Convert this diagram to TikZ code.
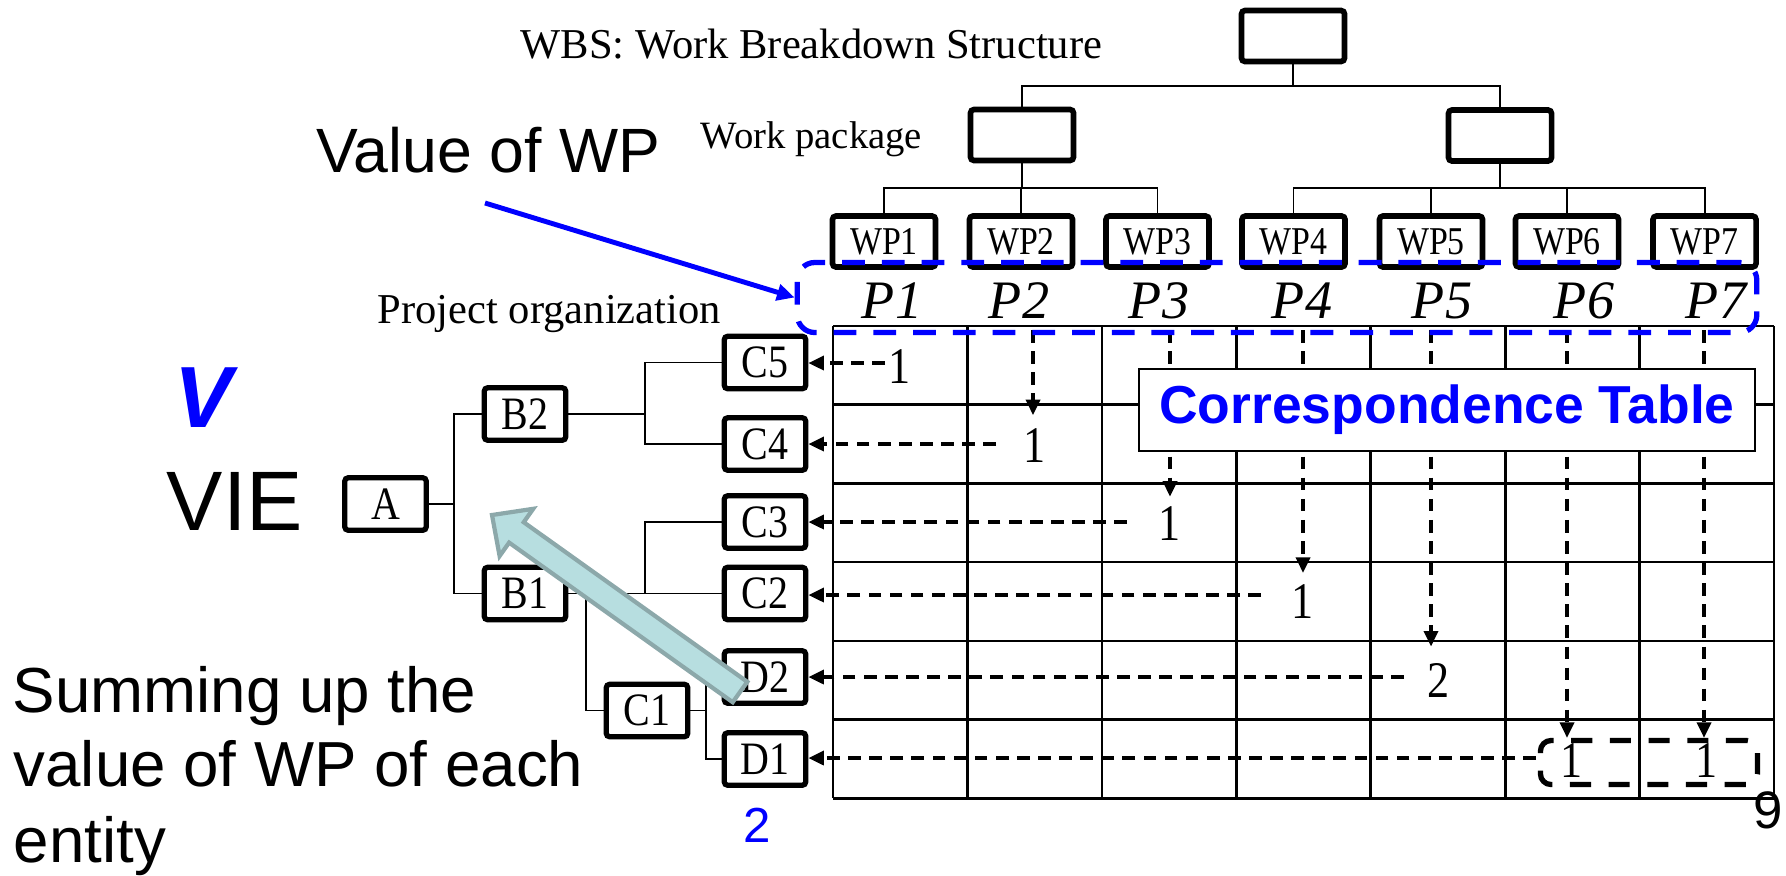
\documentclass[tikz,border=0pt]{standalone}
\usepackage{fontspec}
\setmainfont{Liberation Serif}
\setsansfont{Liberation Sans}
\newfontfamily\narrowserif{Liberation Serif}[FakeStretch=0.86]
\usetikzlibrary{arrows.meta}
\definecolor{pureblue}{RGB}{0,0,255}
\definecolor{tealfill}{RGB}{183,222,224}
\definecolor{tealedge}{RGB}{140,168,170}
\newcommand{\fsz}[1]{\fontsize{#1}{#1}\selectfont}

\begin{document}
\begin{tikzpicture}[x=0.01cm, y=-0.01cm,
  wbsbox/.style={draw, line width=1.6pt, rounded corners=1pt, minimum width=1.03cm, minimum height=0.51cm, inner sep=0pt},
  orgbox/.style={draw, line width=1.5pt, rounded corners=1pt, minimum width=0.815cm, minimum height=0.525cm, inner sep=0pt, font=\narrowserif\fsz{13.2}},
  tree/.style={line width=0.55pt},
  gridline/.style={line width=0.75pt},
  dasharrow/.style={line width=0.95pt, dash pattern=on 3.6pt off 2.4pt, -{Triangle[length=4.4pt,width=4pt]}},
  cellnum/.style={inner sep=0pt, anchor=base, font=\narrowserif\fsz{14.6}},
  plabel/.style={inner sep=0pt, anchor=base, font=\fsz{15.4}\itshape},
  caption/.style={inner sep=0pt, anchor=base west},
]
\useasboundingbox (0,0) rectangle (1786,875);

% ---------- correspondence table grid ----------
\foreach \i in {0,...,7}
  \draw[gridline] ({833+134.43*\i},326) -- ({833+134.43*\i},798);
\foreach \j in {0,...,6}
  \draw[gridline] (833,{326+78.7*\j}) -- (1774,{326+78.7*\j});

% ---------- WBS tree ----------
\node[wbsbox] (root) at (1293,36) {};
\node[wbsbox] (midL) at (1022,135) {};
\node[wbsbox] (midR) at (1500,135.5) {};
\foreach \i/\x in {1/884,2/1021,3/1157.5,4/1293.5,5/1431,6/1567,7/1704.5}
  \node[wbsbox, font=\narrowserif\fsz{11.2}] (wp\i) at (\x,241.5) {WP\i};

\coordinate (jRoot) at (1293,86);
\coordinate (jL) at (1022,188);
\coordinate (jR) at (1500,188);
\draw[tree] (root.south) -- (jRoot);
\draw[tree] (midL.north) |- (jRoot) -| (midR.north);
\draw[tree] (midL.south) -- (jL);
\draw[tree] (wp1.north) |- (jL) -| (wp3.north);
\draw[tree] (wp2.north) |- (jL);
\draw[tree] (midR.south) -- (jR);
\draw[tree] (wp4.north) |- (jR) -| (wp7.north);
\draw[tree] (wp5.north) |- (jR);
\draw[tree] (wp6.north) |- (jR);

% ---------- project organization tree ----------
\node[orgbox] (A)  at (385.5,504) {A};
\node[orgbox] (B2) at (525,414) {B2};
\node[orgbox] (B1) at (525,593.5) {B1};
\node[orgbox] (C5) at (765,362.5) {C5};
\node[orgbox] (C4) at (765,444) {C4};
\node[orgbox] (C3) at (765,522) {C3};
\node[orgbox] (C2) at (765,593.5) {C2};
\node[orgbox] (D2) at (765,677) {D2};
\node[orgbox] (D1) at (765,759) {D1};
\node[orgbox] (C1) at (647,710.5) {C1};

\coordinate (jA) at (454,504);
\coordinate (jB2) at (645,414);
\coordinate (jB1) at (645,593.5);
\coordinate (jB1c) at (586,593.5);
\coordinate (jC1) at (705.7,710.5);
\draw[tree] (A.east) -- (jA);
\draw[tree] (B2.west) -| (jA) |- (B1.west);
\draw[tree] (B2.east) -- (jB2);
\draw[tree] (C5.west) -| (jB2) |- (C4.west);
\draw[tree] (B1.east) -- (jB1);
\draw[tree] (C3.west) -| (jB1) |- (C2.west);
\draw[tree] (jB1c) |- (C1.west);
\draw[tree] (C1.east) -- (jC1);
\draw[tree] (D2.west) -| (jC1) |- (D1.west);

% ---------- column headings ----------
\foreach \i/\x in {1/892,2/1019,3/1159,4/1302,5/1442,6/1584,7/1716}
  \node[plabel] (P\i) at (\x,318) {P\i};

% ---------- table entries ----------
\node[cellnum] (nC5) at (900,383) {1};
\node[cellnum] (nC4) at (1035,462) {1};
\node[cellnum] (nC3) at (1170,540) {1};
\node[cellnum] (nC2) at (1303,618) {1};
\node[cellnum] (nD2) at (1439,697) {2};
\node[cellnum] (nD1a) at (1572,777) {1};
\node[cellnum] (nD1b) at (1707,777) {1};
\node[draw, line width=1.5pt, dash pattern=on 6pt off 5pt, rounded corners=3pt,
      minimum width=2.17cm, minimum height=0.44cm, inner sep=0pt] (dbox) at (1649,762.5) {};

% vertical arrows: work package column -> row
\coordinate (vP2) at (1033,330);
\coordinate (vP3) at (1170,330);
\coordinate (vP4) at (1303,330);
\coordinate (vP5) at (1431,330);
\coordinate (vP6) at (1567,330);
\coordinate (vP7) at (1704,330);
\draw[dasharrow, shorten >=3.5pt] (vP2) -- (vP2 |- nC4.north);
\draw[dasharrow, shorten >=2.5pt] (vP3) -- (vP3 |- nC3.north);
\draw[dasharrow, shorten >=3pt] (vP4) -- (vP4 |- nC2.north);
\draw[dasharrow, shorten >=4.5pt] (vP5) -- (vP5 |- nD2.north);
\draw[dasharrow] (vP6) -- (vP6 |- dbox.north);
\draw[dasharrow] (vP7) -- (vP7 |- dbox.north);

% horizontal arrows: row value -> organization entity
\coordinate (hC5) at (885,363);
\coordinate (hC4) at (996,444);
\coordinate (hC3) at (1127,522);
\coordinate (hC2) at (1261,595);
\coordinate (hD2) at (1404,677);
\coordinate (hD1) at (1536,758);
\draw[dasharrow] (hC5) -- (hC5 -| C5.east);
\draw[dasharrow] (hC4) -- (hC4 -| C4.east);
\draw[dasharrow] (hC3) -- (hC3 -| C3.east);
\draw[dasharrow] (hC2) -- (hC2 -| C2.east);
\draw[dasharrow] (hD2) -- (hD2 -| D2.east);
\draw[dasharrow] (hD1) -- (hD1 -| D1.east);

% ---------- table title ----------
\node[draw, line width=0.6pt, fill=white, minimum width=6.16cm, minimum height=0.82cm, inner sep=0pt,
      font=\sffamily\bfseries\fsz{15.2}, text=pureblue] (ctab) at (1447,410) {Correspondence Table};

% ---------- value of WP highlight ----------
\node[draw=pureblue, line width=1.5pt, dash pattern=on 6.5pt off 4.8pt, rounded corners=5pt,
      minimum width=9.59cm, minimum height=0.70cm, inner sep=0pt] (pbox) at (1277,297.5) {};
\coordinate (vwpTail) at (485,203);
\draw[pureblue, line width=1.4pt, -{Triangle[length=5pt,width=4.6pt]}] (vwpTail) -- (pbox.west);

% ---------- texts ----------
\node[caption, font=\fsz{12.1}] (wbstitle) at (520,58) {WBS: Work Breakdown Structure};
\node[caption, font=\fsz{11}] (wplabel) at (700,148) {Work package};
\node[caption, font=\fsz{12.1}] (orglabel) at (377,323) {Project organization};
\node[caption, font=\sffamily\fsz{17.8}] (valwp) at (316,172) {Value of WP};
\node[inner sep=0pt, anchor=base, font=\sffamily\bfseries\itshape\fsz{24.7}, text=pureblue] (vsym) at (203,427) {V};
\node[caption, font=\sffamily\fsz{24}] (vie) at (166,530) {VIE};
\node[caption, font=\sffamily\fsz{18.1}] (sum1) at (12,712) {Summing up the};
\node[caption, font=\sffamily\fsz{18.1}] (sum2) at (13,786) {value of WP of each};
\node[caption, font=\sffamily\fsz{18.1}] (sum3) at (13,862) {entity};
\node[inner sep=0pt, anchor=base, font=\sffamily\fsz{14}, text=pureblue] (sumval) at (757,842) {2};
\node[inner sep=0pt, anchor=base, font=\sffamily\fsz{15}] (pagenum) at (1768,828) {9};

% ---------- summing-up block arrow ----------
\draw[fill=tealfill, draw=tealedge, line width=1.2pt, line join=miter]
  (747.3,681.8) -- (523.7,522.2) -- (533.2,508.8) -- (492,515) -- (499.6,556.0)
  -- (509.1,542.6) -- (732.7,702.2) -- cycle;
\end{tikzpicture}
\end{document}
